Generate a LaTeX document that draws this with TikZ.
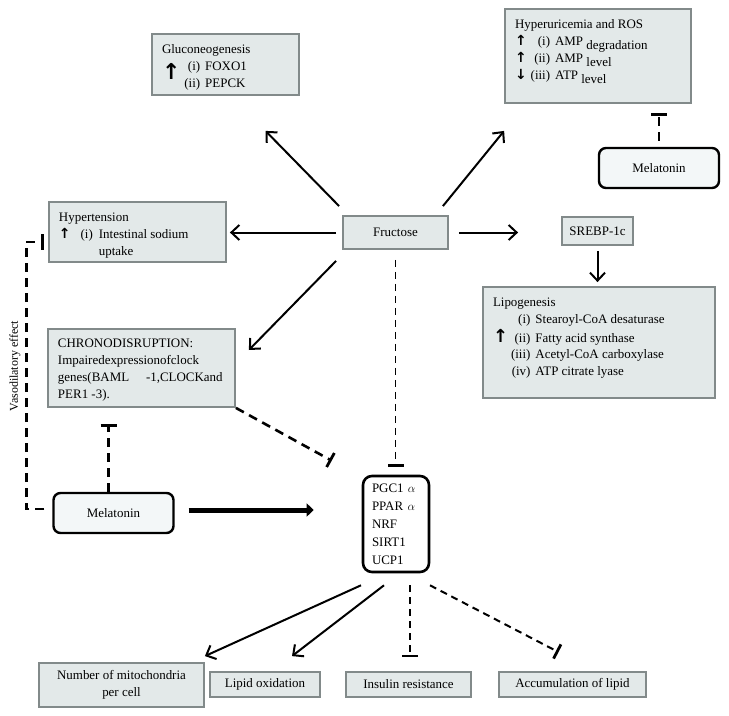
\documentclass[tikz,border=0pt]{standalone}
\usepackage{fontspec}
\setmainfont{Liberation Serif}
\newfontfamily\arrowfont{DejaVu Sans}
\usetikzlibrary{arrows.meta}
\definecolor{boxfill}{RGB}{227,233,233}
\definecolor{boxline}{RGB}{130,138,138}
\definecolor{melfill}{RGB}{243,247,248}
\newcommand{\upar}{{\fontsize{14}{14}\selectfont\arrowfont\bfseries ↑}}
\newcommand{\downar}{{\fontsize{14}{14}\selectfont\arrowfont\bfseries ↓}}
\newcommand{\midup}{{\fontsize{18}{16}\selectfont\arrowfont\bfseries ↑}}
\newcommand{\bigup}{\raisebox{-9bp}[0pt][0pt]{\fontsize{22}{20}\selectfont\arrowfont\bfseries ↑}}
\newcommand{\boxtext}[3]{\begin{minipage}[c][#2][t]{#1}#3\end{minipage}}
\newcommand{\low}[1]{\raisebox{-4bp}[0pt][0pt]{#1}}

\begin{document}
\begin{tikzpicture}[x=1bp, y=-1bp, font=\fontsize{13}{17}\selectfont,
    text box/.style={draw=boxline, fill=boxfill, line width=1.8bp, inner xsep=10bp, inner ysep=8bp},
    small box/.style={draw=boxline, fill=boxfill, line width=1.8bp, inner sep=0pt, align=center},
    mel node/.style={draw, fill=melfill, line width=2.4bp, rounded corners=7bp, minimum width=120bp, minimum height=40bp},
    gene node/.style={draw, line width=2.6bp, rounded corners=9bp, minimum width=66bp, minimum height=96bp, text width=48bp, align=left, font=\fontsize{13}{18}\selectfont},
    arr/.style={-{Straight Barb[length=8bp,width=15bp,line width=2bp]}, line width=2bp},
    tee/.style={-{Bar[width=16bp,line width=2.8bp]}},
    long dash/.style={dash pattern=on 9bp off 6bp, line width=2.6bp},
    short dash/.style={dash pattern=on 7bp off 5bp, line width=2bp}]
\useasboundingbox (0,0) rectangle (729,716);

\node[text box] (glu) at (225.5,64.5) {\boxtext{127bp}{45bp}{%
  \begin{tabular}{@{}c@{\hspace{4bp}}r@{\hspace{5bp}}l@{}}
  \multicolumn{3}{@{}l@{}}{Gluconeogenesis}\\
  \bigup & (i) & FOXO1\\
   & (ii) & PEPCK
  \end{tabular}}};
\node[text box] (hyp) at (598,56) {\boxtext{166bp}{78bp}{%
  \begin{tabular}{@{}c@{\hspace{4bp}}r@{\hspace{5bp}}l@{}}
  \multicolumn{3}{@{}l@{}}{Hyperuricemia and ROS}\\
  \upar & (i) & AMP \low{degradation}\\
  \upar & (ii) & AMP \low{level}\\
  \downar & (iii) & ATP \low{level}
  \end{tabular}}};
\node[mel node] (melT) at (659,168) {Melatonin};
\node[text box] (hyt) at (137.5,232) {\boxtext{157bp}{44bp}{%
  \begin{tabular}{@{}c@{\hspace{10bp}}r@{\hspace{6bp}}l@{}}
  \multicolumn{3}{@{}l@{}}{Hypertension}\\
  \upar & (i) & Intestinal sodium\\
   & & uptake
  \end{tabular}}};
\node[small box, minimum width=105bp, minimum height=33bp] (fru) at (395.5,232.5) {Fructose};
\node[small box, minimum width=71bp, minimum height=28bp] (srebp) at (597.5,231) {SREBP-1c};
\node[text box] (lipo) at (599,342.5) {\boxtext{212bp}{95bp}{%
  \begin{tabular}{@{}c@{\hspace{3bp}}r@{\hspace{5bp}}l@{}}
  \multicolumn{3}{@{}l@{}}{Lipogenesis}\\
   & (i) & Stearoyl-CoA desaturase\\
  \midup & (ii) & Fatty acid synthase\\
   & (iii) & Acetyl-CoA carboxylase\\
   & (iv) & ATP citrate lyase
  \end{tabular}}};
\node[text box] (chrono) at (141.5,368) {\boxtext{167bp}{62bp}{%
  \vspace*{2bp}CHRONODISRUPTION:\\
  Impairedexpressionofclock\\
  genes(BAML\hspace{1.3em}-1,CLOCKand\\
  PER1 -3).}};
\node[mel node] (melL) at (113.5,513) {Melatonin};
\node[gene node] (pgc) at (396,524) {PGC1 $\alpha$\\PPAR $\alpha$\\NRF\\SIRT1\\UCP1};
\node[small box, minimum width=165bp, minimum height=44bp] (mito) at (121.5,685) {Number of mitochondria\\per cell};
\node[small box, minimum width=110bp, minimum height=25bp] (lipox) at (265,684.5) {Lipid oxidation};
\node[small box, minimum width=125bp, minimum height=25bp] (ins) at (408.5,684.5) {Insulin resistance};
\node[small box, minimum width=147bp, minimum height=25bp] (acc) at (572.5,684.5) {Accumulation of lipid};
\node[rotate=90, font=\fontsize{12}{14}\selectfont] (vaso) at (15,366) {Vasodilatory effect};

\draw[arr] ([shift={(-3,-9)}]fru.north west) -- ([shift={(40,35)}]glu.south);
\draw[arr] ([shift={(-6,-9)}]fru.north east) -- ([shift={(0,27)}]hyp.south west);
\draw[arr, shorten <=6bp, shorten >=3bp] (fru.west) -- (fru.west -| hyt.east);
\draw[arr, shorten <=10bp, shorten >=43bp] (fru.east) -- (fru.east -| srebp.west);
\draw[arr] ([shift={(-6,11)}]fru.south west) -- ([shift={(13,-18)}]chrono.east);
\draw[short dash, line width=1.7bp, tee, shorten <=10bp, shorten >=8bp] (fru.south) -- (fru.south |- pgc.north);
\draw[arr, shorten <=5bp, shorten >=4bp] (srebp.south) -- (srebp.south |- lipo.north);
\draw[long dash, dash phase=9bp, tee, shorten >=9bp] (melT.north) -- (melT.north |- hyp.south);
\draw[long dash, tee, shorten >=16bp] ([xshift=-5bp]melL.north) -- ([xshift=-5bp]melL.north |- chrono.south);
\draw[long dash, tee] (chrono.south east) -- ([shift={(-30,-14)}]pgc.north west);
\draw[line width=5bp, -{Triangle[length=7bp,width=13bp]}, shorten <=14bp, shorten >=48bp] ([yshift=3bp]melL.east) -- ([yshift=3bp]melL.east -| pgc.west);
\draw[long dash, tee, shorten <=8bp, shorten >=4bp] ([yshift=4bp]melL.west) -- ++(-26,0) |- ([yshift=-10bp]hyt.west);

\draw[arr] ([shift={(-35,12)}]pgc.south) -- ([yshift=6bp]mito.north east);
\draw[arr] ([shift={(-12,12)}]pgc.south) -- ([shift={(27,-15)}]lipox.north);
\draw[short dash, tee] ([shift={(14,12)}]pgc.south) -- +(0,72);
\draw[short dash, tee] ([shift={(34,12)}]pgc.south) -- ([shift={(-14,-19)}]acc.north);
\end{tikzpicture}
\end{document}
